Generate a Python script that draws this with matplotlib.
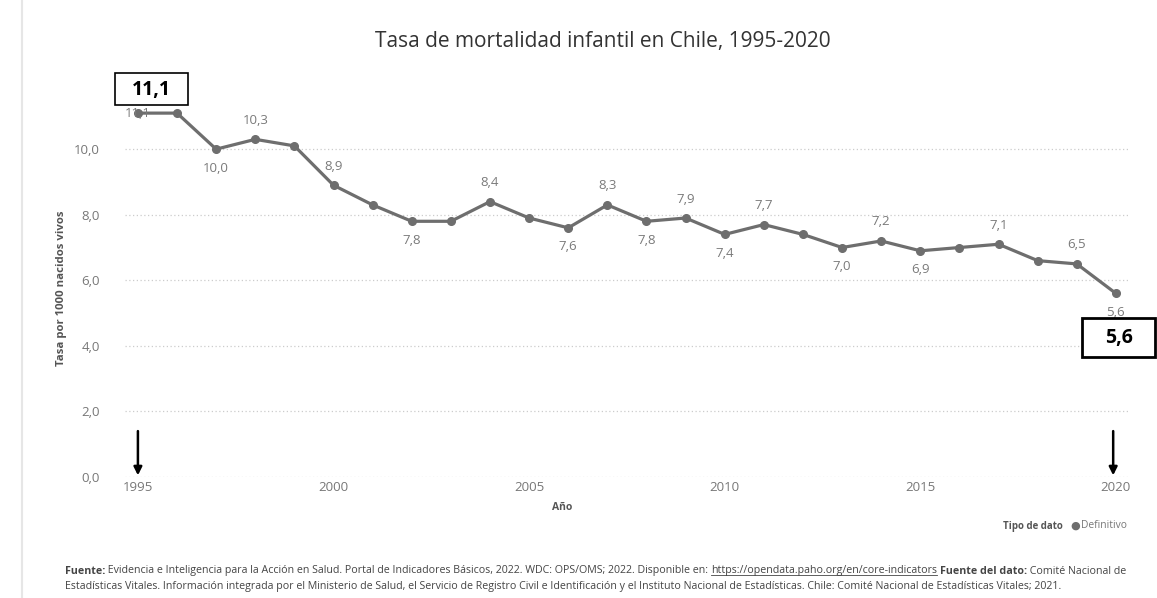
import matplotlib
matplotlib.use("Agg")
import matplotlib.pyplot as plt
from matplotlib.patches import Rectangle
from matplotlib.ticker import FuncFormatter

years = list(range(1995, 2021))
rates = [11.1, 11.1, 10.0, 10.3, 10.1, 8.9, 8.3, 7.8, 7.8, 8.4, 7.9, 7.6, 8.3,
         7.8, 7.9, 7.4, 7.7, 7.4, 7.0, 7.2, 6.9, 7.0, 7.1, 6.6, 6.5, 5.6]
# labelled points: year -> position ("above"/"below"/"on")
label_years = {1995: "on", 1997: "below", 1998: "above", 2000: "above", 2002: "below",
               2004: "above", 2006: "below", 2007: "above", 2008: "below", 2009: "above",
               2010: "below", 2011: "above", 2013: "below", 2014: "above", 2015: "below",
               2017: "above", 2019: "above", 2020: "below"}
yticks = [0, 2, 4, 6, 8, 10]
xticks = [1995, 2000, 2005, 2010, 2015, 2020]

FONT = ["Open Sans", "DejaVu Sans"]
plt.rcParams["font.family"] = FONT

W, H = 1157, 598
fig = plt.figure(figsize=(W / 100, H / 100), dpi=100)

def px(x, y):
    return x / W, 1 - y / H

ax_l, ax_r, ax_b, ax_t = 125, 1130, 477, 100
ax = fig.add_axes([ax_l / W, 1 - ax_b / H, (ax_r - ax_l) / W, (ax_b - ax_t) / H])
ax.set_xlim(1994.67, 2020.36)
ax.set_ylim(0, 11.5)
for s in ax.spines.values():
    s.set_visible(False)
ax.set_yticks(yticks)
ax.set_xticks(xticks)
ax.yaxis.set_major_formatter(FuncFormatter(lambda v, p: f"{v:.1f}".replace(".", ",")))
ax.tick_params(axis="both", length=0, labelsize=9.5, colors="#777777")
ax.tick_params(axis="y", pad=18)
ax.tick_params(axis="x", pad=3)
ax.grid(axis="y", linestyle=(0, (1, 2)), color="#cccccc", linewidth=0.9)
ax.set_axisbelow(True)

ax.plot(years, rates, color="#6e6e6e", linewidth=2.3, marker="o", markersize=5.5,
        markerfacecolor="#6e6e6e", markeredgecolor="#6e6e6e", zorder=3)

for yr, pos in label_years.items():
    v = rates[years.index(yr)]
    txt = f"{v:.1f}".replace(".", ",")
    if pos == "above":
        off, va = 9, "bottom"
    elif pos == "below":
        off, va = -9, "top"
    else:
        off, va = 0, "center"
    ax.annotate(txt, (yr, v), xytext=(0, off), textcoords="offset points",
                ha="center", va=va, fontsize=9.5, color="#7a7a7a", zorder=4)

ax.set_ylabel("Tasa por 1000 nacidos vivos", fontsize=8.2, color="#555555",
              fontweight="bold", labelpad=5)

# highlighted boxes
def box(x0, y0, x1, y1, text, lw):
    fig.add_artist(Rectangle((x0 / W, 1 - y1 / H), (x1 - x0) / W, (y1 - y0) / H,
                             transform=fig.transFigure, facecolor="white",
                             edgecolor="black", linewidth=lw, zorder=9))
    fig.text(*px((x0 + x1) / 2, (y0 + y1) / 2 + 1), text, ha="center", va="center",
             fontsize=14, fontweight="bold", color="black", zorder=10)

box(115, 73, 188, 105, "11,1", 1.2)
box(1082, 318, 1155, 357, "5,6", 2.0)

# arrows
for xa in (1995, 2019.93):
    ax.annotate("", xy=(xa, 0.05), xytext=(xa, 1.4),
                arrowprops=dict(arrowstyle="-|>", color="black", lw=1.8,
                                mutation_scale=12, shrinkA=0, shrinkB=0), zorder=6)

# title and labels
fig.text(*px(603, 42), "Tasa de mortalidad infantil en Chile, 1995-2020", ha="center",
         va="center", fontsize=15, color="#333333")
fig.text(*px(562, 507), "Año", ha="center", va="center", fontsize=7.5, color="#555555",
         fontweight="bold")

# frame line at left
fig.add_artist(plt.Line2D([22 / W, 22 / W], [0, 1], color="#e6e6e6", linewidth=1.5))

fig.canvas.draw()
renderer = fig.canvas.get_renderer()

def width_of(parts, size):
    tot = 0
    for text, weight, _ in parts:
        t = fig.text(0, 0, text, fontsize=size, fontweight=weight)
        tot += t.get_window_extent(renderer).width
        t.remove()
    return tot

def runs(x0, y0, parts, size, color="#555555"):
    x = x0
    for text, weight, underline in parts:
        t = fig.text(x / W, 1 - y0 / H, text, fontsize=size, fontweight=weight,
                     color=color, ha="left", va="center")
        bb = t.get_window_extent(renderer)
        if underline:
            fig.add_artist(plt.Line2D([bb.x0 / W, bb.x1 / W],
                                      [(bb.y0 + 1.5) / H, (bb.y0 + 1.5) / H],
                                      color=color, linewidth=0.6))
        x += bb.width
    return x

# legend
leg1 = [("Tipo de dato", "bold", False)]
leg2 = [("Definitivo", "normal", False)]
ls1 = 10 * 60 / width_of(leg1, 10)
ls2 = 10 * 46 / width_of(leg2, 10)
runs(1003, 526, leg1, ls1)
fig.text(1075 / W, 1 - 526 / H, "●", fontsize=8, color="#6e6e6e", ha="center",
         va="center", family="DejaVu Sans")
runs(1081, 526, leg2, ls2, color="#777777")

line1 = [("Fuente:", "bold", False),
         (" Evidencia e Inteligencia para la Acción en Salud. Portal de Indicadores Básicos, 2022. WDC: OPS/OMS; 2022. Disponible en: ", "normal", False),
         ("https://opendata.paho.org/en/core-indicators", "normal", True),
         (" ", "normal", False),
         ("Fuente del dato:", "bold", False),
         (" Comité Nacional de", "normal", False)]
line2 = [("Estadísticas Vitales. Información integrada por el Ministerio de Salud, el Servicio de Registro Civil e Identificación y el Instituto Nacional de Estadísticas. Chile: Comité Nacional de Estadísticas Vitales; 2021.", "normal", False)]
fs = 10 * 1060 / width_of(line1, 10)
runs(65, 571, line1, fs, color="#444444")
runs(65, 586, line2, fs, color="#444444")

fig.savefig("out.png", dpi=100, facecolor="white")
